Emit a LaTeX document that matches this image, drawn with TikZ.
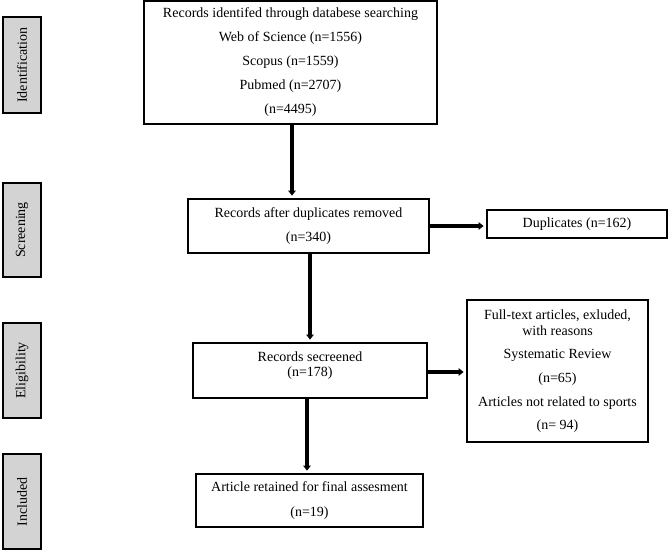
\documentclass[tikz,border=0pt]{standalone}
\usepackage{fontspec}
\setmainfont{Liberation Serif}
\usetikzlibrary{arrows.meta}
\definecolor{sidegray}{RGB}{211,211,211}
\begin{document}
\begin{tikzpicture}[x=1pt,y=-1pt,
  box/.style={draw=black,line width=1.8pt,inner sep=0pt,align=center,font=\fontsize{14}{24}\selectfont},
  txt/.style={inner sep=0pt,align=center,font=\fontsize{14}{24}\selectfont},
  side/.style={draw=black,line width=1.8pt,fill=sidegray,rotate=90,inner sep=0pt,font=\fontsize{14}{16}\selectfont,minimum height=38pt},
  arr/.style={line width=3.2pt,-{Triangle[length=5pt,width=7.5pt]},shorten >=2.5pt}]
\useasboundingbox (0,0) rectangle (669,550);
% side labels
\node[side,minimum width=96pt] (sid) at (22,65) {Identification};
\node[side,minimum width=94pt] (ssc) at (22,230) {Screening};
\node[side,minimum width=95pt] (sel) at (22,370.5) {Eligibility};
\node[side,minimum width=95pt] (sin) at (22,501.5) {Included};
% main boxes
\node[box,minimum width=293pt,minimum height=123pt] (b1) at (290.5,62.5)
  {Records identifed through databese searching\\Web of Science (n=1556)\\Scopus (n=1559)\\Pubmed (n=2707)\\(n=4495)};
\node[box,minimum width=241pt,minimum height=54pt] (b2) at (308.5,226)
  {Records after duplicates removed\\(n=340)};
\node[box,minimum width=180pt,minimum height=28pt] (dup) at (577,224)
  {Duplicates (n=162)};
\node[box,minimum width=234pt,minimum height=55pt] (b3) at (310,370.5) {};
\node[txt,font=\fontsize{14}{15}\selectfont] (b3t) at (310,365.5) {Records secreened\\(n=178)};
\node[box,minimum width=181pt,minimum height=142pt,font=\fontsize{14}{16}\selectfont] (b4) at (557.5,371)
  {Full-text articles, exluded,\\with reasons\\[7pt]Systematic Review\\[8pt](n=65)\\[8pt]Articles not related to sports\\[7pt](n= 94)};
\node[box,minimum width=227pt,minimum height=53pt,font=\fontsize{14}{25}\selectfont] (b5) at (309.5,500.5)
  {Article retained for final assesment\\(n=19)};
% connectors
\draw[arr] ([xshift=1.5pt]b1.south) -- ([xshift=1.5pt]b1.south |- b2.north);
\draw[arr] (b2.east) -- (b2.east -| dup.west);
\draw[arr] ([xshift=1.5pt]b2.south) -- ([xshift=1.5pt]b2.south |- b3.north);
\draw[arr] ([yshift=-1.5pt]b3.east) -- ([yshift=-1.5pt]b3.east -| b4.west);
\draw[arr] ([xshift=-3pt]b3.south) -- ([xshift=-3pt]b3.south |- b5.north);
\end{tikzpicture}
\end{document}
